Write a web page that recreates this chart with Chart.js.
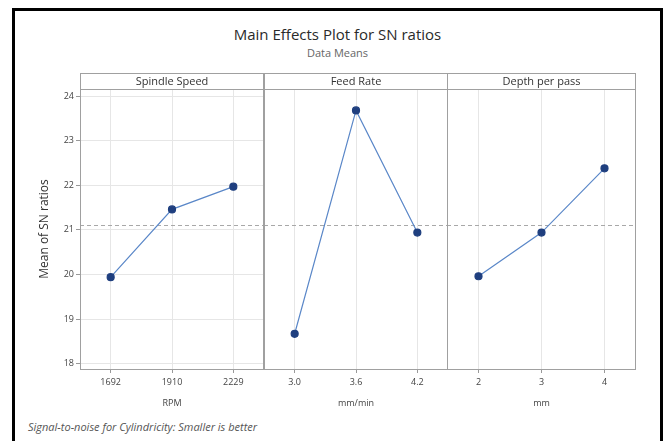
<!DOCTYPE html>
<html>
<head>
<meta charset="utf-8">
<script src="https://cdn.jsdelivr.net/npm/chart.js@4"></script>
<style>
  body { margin: 0; background: #fff; font-family: "Open Sans", sans-serif; }
  #frame { position: absolute; left: 12px; top: 8px; width: 645px; height: 450px; border: 3px solid #000; }
  canvas { position: absolute; }
  .txt { position: absolute; white-space: nowrap; }
  #title { left: 12px; width: 651px; top: 24px; text-align: center; font-size: 15px; color: #2a2a2a; }
  #sub { left: 12px; width: 651px; top: 45px; text-align: center; font-size: 11px; color: #666; }
  #note { left: 28px; top: 419px; font-size: 11px; font-style: italic; color: #555; }
</style>
</head>
<body>
<div id="frame"></div>
<div class="txt" id="title">Main Effects Plot for SN ratios</div>
<div class="txt" id="sub">Data Means</div>
<canvas id="c0" width="245" height="345" style="left:20px;top:70px"></canvas>
<canvas id="c1" width="186" height="345" style="left:263px;top:70px"></canvas>
<canvas id="c2" width="191" height="345" style="left:446px;top:70px"></canvas>
<div class="txt" id="note">Signal-to-noise for Cylindricity: Smaller is better</div>
<script>
const speedLabels = ['1692', '1910', '2229'];
const speedMeans = [19.94, 21.46, 21.97];
const feedLabels = ['3.0', '3.6', '4.2'];
const feedMeans = [18.67, 23.68, 20.94];
const depthLabels = ['2', '3', '4'];
const depthMeans = [19.96, 20.94, 22.38];
const factorNames = ['Spindle Speed', 'Feed Rate', 'Depth per pass'];
const unitNames = ['RPM', 'mm/min', 'mm'];
const yTicks = [18, 19, 20, 21, 22, 23, 24];
const grandMean = 21.1;

const gridColor = '#e6e6e6';
const frameColor = '#a0a0a0';
const textColor = '#444';

// panel frame, strip header and dashed mean line
const panelPlugin = {
    id: 'panel',
    beforeDatasetsDraw(chart, args, opts) {
        const { ctx, chartArea: a, scales } = chart;
        const y = Math.round(scales.y.getPixelForValue(grandMean)) + 0.5;
        ctx.save();
        ctx.strokeStyle = '#a8a8a8';
        ctx.lineWidth = 1;
        ctx.setLineDash([4, 3]);
        ctx.beginPath();
        ctx.moveTo(a.left, y);
        ctx.lineTo(a.right, y);
        ctx.stroke();
        ctx.restore();
    },
    afterDraw(chart, args, opts) {
        const { ctx, chartArea: a } = chart;
        ctx.save();
        ctx.strokeStyle = frameColor;
        ctx.lineWidth = 1;
        ctx.strokeRect(a.left + 0.5, a.top + 0.5, a.right - a.left - 1, a.bottom - a.top);
        ctx.strokeRect(a.left + 0.5, a.top - 15.5, a.right - a.left - 1, 16);
        ctx.fillStyle = '#333';
        ctx.font = '11px "Open Sans"';
        ctx.textAlign = 'center';
        ctx.textBaseline = 'middle';
        ctx.fillText(opts.header, (a.left + a.right) / 2, a.top - 7);
        ctx.restore();
    }
};

function makeChart(id, labels, values, idx) {
    const first = idx === 0;
    return new Chart(document.getElementById(id), {
        type: 'line',
        data: {
            labels: labels,
            datasets: [{
                data: values,
                borderColor: '#5a87c8',
                borderWidth: 1.2,
                pointRadius: 3.5,
                pointBackgroundColor: '#1f3f7f',
                pointBorderColor: '#1f3f7f',
                tension: 0,
                fill: false
            }]
        },
        options: {
            responsive: false,
            animation: false,
            devicePixelRatio: 1,
            layout: { autoPadding: false, padding: { top: 19, bottom: 0, left: first ? 0 : 1, right: 1 } },
            plugins: {
                legend: { display: false },
                tooltip: { enabled: false },
                panel: { header: factorNames[idx] }
            },
            scales: {
                x: {
                    type: 'category',
                    offset: true,
                    afterFit: (s) => { s.height = 46; },
                    grid: { offset: false, color: gridColor, tickLength: 4, tickColor: '#999' },
                    border: { display: false },
                    ticks: { color: textColor, font: { size: 9, family: 'Open Sans' }, padding: 4, maxRotation: 0 },
                    title: {
                        display: true,
                        text: unitNames[idx],
                        color: textColor,
                        font: { size: 9, family: 'Open Sans' },
                        padding: { top: 0, bottom: 6 }
                    }
                },
                y: {
                    display: first,
                    min: 17.88,
                    max: 24.16,
                    afterFit: (s) => { s.width = first ? 60 : 0; },
                    afterBuildTicks: (s) => { s.ticks = yTicks.map(v => ({ value: v })); },
                    grid: { color: gridColor, tickLength: 4, tickColor: '#999' },
                    border: { display: false },
                    ticks: { color: textColor, font: { size: 9, family: 'Open Sans' }, padding: 2 },
                    title: {
                        display: true,
                        text: 'Mean of SN ratios',
                        color: '#333',
                        font: { size: 12, family: 'Open Sans' },
                        padding: { top: 17 }
                    }
                }
            }
        },
        plugins: [panelPlugin]
    });
}

makeChart('c0', speedLabels, speedMeans, 0);
makeChart('c1', feedLabels, feedMeans, 1);
makeChart('c2', depthLabels, depthMeans, 2);
</script>
</body>
</html>
